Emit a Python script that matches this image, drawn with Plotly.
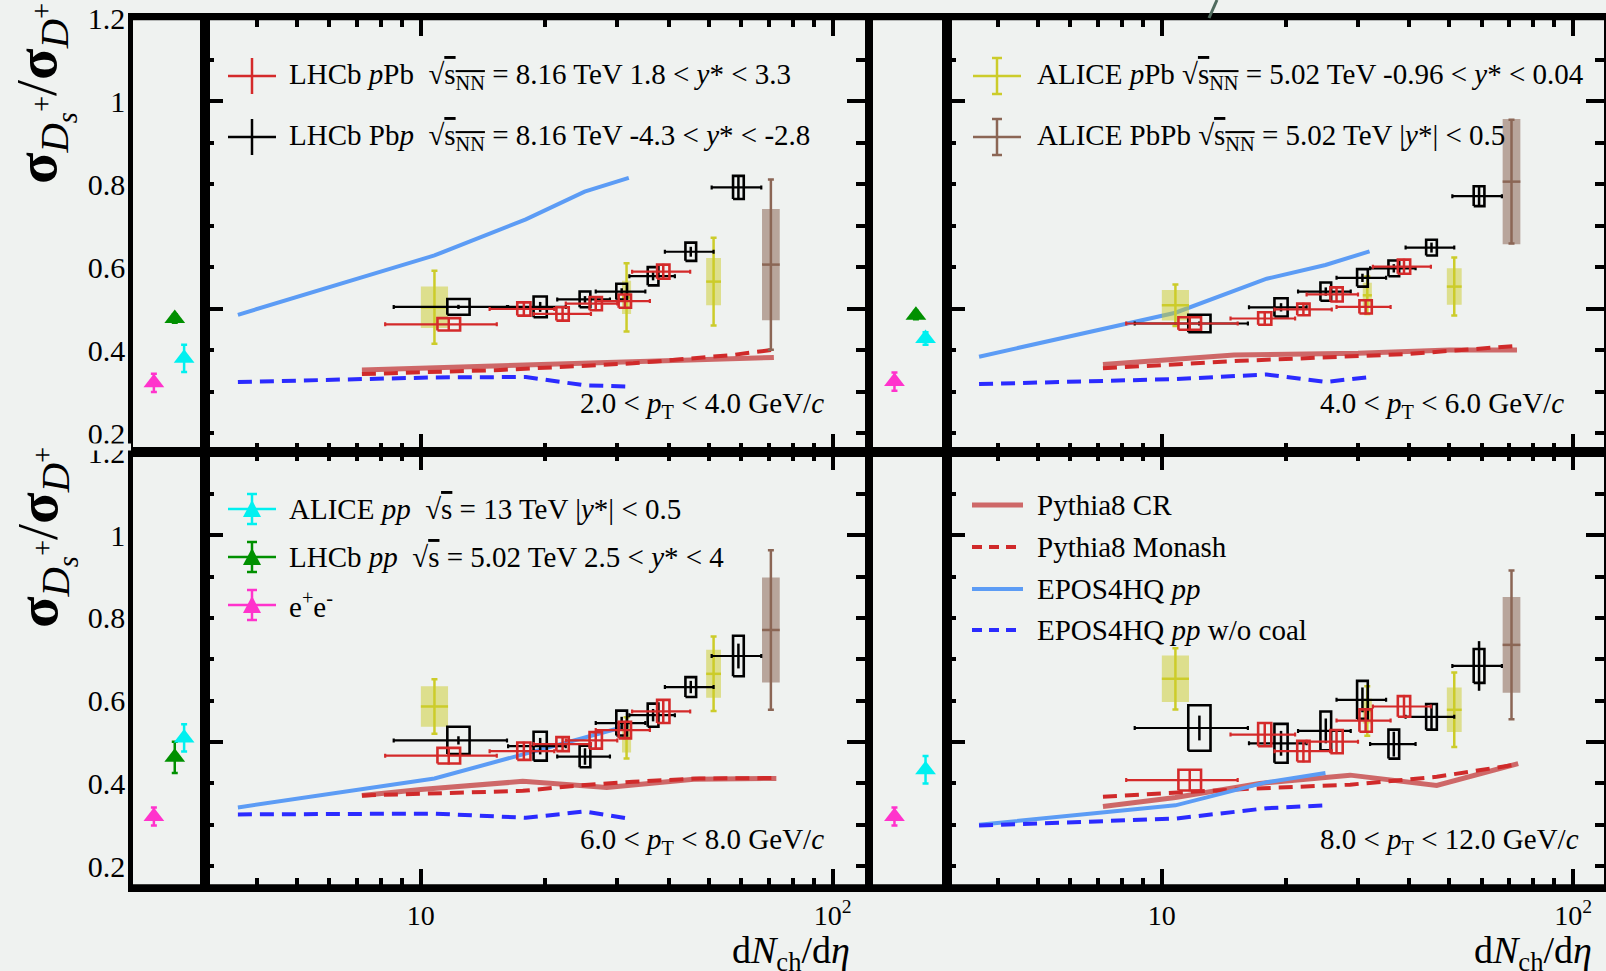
import plotly.graph_objects as go

W, H = 1606, 971
BG = "#eff2f0"
FONT = "Liberation Serif"

# ---------------- data ----------------
PT_LABELS = [
    "2.0 &lt; <i>p</i><sub>T</sub> &lt; 4.0 GeV/<i>c</i>",
    "4.0 &lt; <i>p</i><sub>T</sub> &lt; 6.0 GeV/<i>c</i>",
    "6.0 &lt; <i>p</i><sub>T</sub> &lt; 8.0 GeV/<i>c</i>",
    "8.0 &lt; <i>p</i><sub>T</sub> &lt; 12.0 GeV/<i>c</i>",
]

# LHCb pPb (red)
RED_X = [11.7, 17.8, 22.1, 26.6, 31.3, 38.8]
RED_XLO = [8.2, 14.7, 18.8, 22.5, 26.6, 32.6]
RED_XHI = [15.3, 21.1, 25.9, 30.0, 36.0, 45.1]
RED_BOX_DLOG = [0.0275, 0.016, 0.015, 0.015, 0.015, 0.015]
RED_Y = [
    [0.462, 0.499, 0.487, 0.512, 0.518, 0.589],
    [0.464, 0.476, 0.498, 0.534, 0.504, 0.601],
    [0.467, 0.478, 0.495, 0.504, 0.529, 0.574],
    [0.408, 0.518, 0.478, 0.501, 0.552, 0.586],
]
RED_SYST = [
    [0.015, 0.016, 0.016, 0.016, 0.016, 0.017],
    [0.015, 0.015, 0.014, 0.017, 0.016, 0.017],
    [0.019, 0.021, 0.017, 0.020, 0.020, 0.028],
    [0.025, 0.028, 0.025, 0.028, 0.027, 0.025],
]
RED_STAT = [
    [0.016, 0.018, 0.018, 0.018, 0.018, 0.019],
    [0.016, 0.017, 0.016, 0.019, 0.018, 0.019],
    [0.021, 0.023, 0.019, 0.022, 0.022, 0.030],
    [0.027, 0.030, 0.027, 0.030, 0.030, 0.028],
]

# LHCb Pbp (black)
BLK_X = [12.35, 19.5, 25.05, 30.75, 36.65, 45.25, 59.05]
BLK_XLO = [8.6, 16.3, 21.45, 26.6, 32.1, 39.15, 50.85]
BLK_XHI = [16.2, 22.5, 28.8, 35.1, 41.4, 51.4, 67.1]
BLK_BOX_DLOG = [0.027, 0.016, 0.013, 0.013, 0.013, 0.013, 0.013]
BLK_Y = [
    [0.504, 0.504, 0.522, 0.541, 0.578, 0.637, 0.792],
    [0.464, 0.503, 0.541, 0.574, 0.597, 0.647, 0.771],
    [0.504, 0.490, 0.465, 0.546, 0.565, 0.633, 0.708],
    [0.534, 0.497, 0.527, 0.602, 0.495, 0.561, 0.684],
]
BLK_SYST = [
    [0.019, 0.025, 0.019, 0.019, 0.022, 0.022, 0.028],
    [0.021, 0.022, 0.022, 0.021, 0.019, 0.019, 0.024],
    [0.033, 0.035, 0.026, 0.030, 0.028, 0.024, 0.049],
    [0.055, 0.047, 0.047, 0.046, 0.035, 0.031, 0.041],
]
BLK_STAT = [
    [0.005, 0.012, 0.008, 0.008, 0.010, 0.012, 0.030],
    [0.005, 0.010, 0.010, 0.010, 0.010, 0.012, 0.025],
    [0.010, 0.020, 0.020, 0.015, 0.015, 0.015, 0.030],
    [0.030, 0.030, 0.030, 0.030, 0.030, 0.030, 0.060],
]

# ALICE pPb (yellow)
YEL_X = [10.8, 31.6, 51.4]
YEL_BOX_DLOG = [0.033, 0.011, 0.018]
YEL_Y = [
    [0.503, 0.527, 0.565],
    [0.508, 0.532, 0.553],
    [0.586, 0.510, 0.665],
    [0.653, 0.575, 0.578],
]
YEL_STAT = [
    [0.088, 0.082, 0.106],
    [0.050, 0.045, 0.070],
    [0.066, 0.050, 0.090],
    [0.074, 0.060, 0.090],
]
YEL_SYST = [
    [0.050, 0.040, 0.057],
    [0.037, 0.030, 0.044],
    [0.049, 0.035, 0.058],
    [0.056, 0.030, 0.054],
]

# ALICE PbPb (brown)
BRN_X = [70.8]
BRN_BOX_DLOG = [0.0215]
BRN_Y = [[0.606], [0.806], [0.771], [0.735]]
BRN_STAT = [[0.205], [0.149], [0.193], [0.180]]
BRN_SYST = [[0.134], [0.151], [0.127], [0.116]]

# pp / e+e- reference points (left sub-panels)
REF_NAMES = ["e+e-", "LHCb pp 5.02", "ALICE pp 13"]
REF_POS = [0.29, 0.58, 0.71]
REF_Y = [
    [0.321, 0.476, 0.380],
    [0.324, 0.484, 0.428],
    [0.320, 0.463, 0.510],
    [0.320, None, 0.433],
]
REF_ERR = [
    [0.022, 0.010, 0.033],
    [0.022, 0.010, 0.015],
    [0.022, 0.038, 0.033],
    [0.022, None, 0.033],
]

# Models
EPOS_X = [[3.6, 10.8, 18, 25, 32], [3.6, 10.8, 18, 25, 32], [3.6, 10.8, 18, 25, 32], [3.6, 10.8, 18, 25]]
EPOS_Y = [
    [0.485, 0.628, 0.715, 0.782, 0.815],
    [0.384, 0.490, 0.572, 0.605, 0.638],
    [0.342, 0.412, 0.472, 0.510, 0.540],
    [0.300, 0.347, 0.403, 0.425],
]
EPOSNC_Y = [
    [0.323, 0.334, 0.335, 0.315, 0.312],
    [0.318, 0.330, 0.341, 0.323, 0.335],
    [0.325, 0.327, 0.317, 0.332, 0.315],
    [0.298, 0.315, 0.340, 0.347],
]
CR_X = [
    [7.2, 10, 20, 30, 72],
    [7.2, 15, 30, 50, 73],
    [7.2, 10, 17.7, 28.3, 46, 73],
    [7.2, 10.8, 17.3, 28.7, 46.6, 73.5],
]
CR_Y = [
    [0.352, 0.356, 0.364, 0.370, 0.382],
    [0.365, 0.388, 0.392, 0.400, 0.400],
    [0.371, 0.385, 0.405, 0.390, 0.410, 0.412],
    [0.344, 0.366, 0.400, 0.420, 0.395, 0.448],
]
MON_X = [
    [7.2, 15.6, 32.8, 57, 71],
    [7.2, 15.5, 39, 73],
    [7.2, 17.7, 23.5, 32.8, 47.6, 73],
    [7.2, 15.5, 28.7, 46.6, 72],
]
MON_Y = [
    [0.342, 0.352, 0.368, 0.388, 0.400],
    [0.356, 0.374, 0.390, 0.410],
    [0.371, 0.382, 0.394, 0.404, 0.412, 0.413],
    [0.368, 0.386, 0.397, 0.416, 0.445],
]

# ---------------- styles ----------------
RED = "#d42a2a"
YEL = "#cccc2a"
YEL_FILL = "rgba(204,204,42,0.5)"
BRN = "#8b6655"
BRN_FILL = "rgba(139,102,85,0.55)"
REF_COL = ["#ff33cc", "#009000", "#00f0f0"]
EPOS_COL = "#5c9cf5"
EPOSNC_COL = "#2b2bff"
CR_COL = "rgba(200,80,80,0.85)"
MON_COL = "#d02a2a"
DASH = "14px,8px"


def px(x):
    return x / W


def py(y):
    return 1 - y / H


def rects(xs, ys, hs, dl):
    X, Y = [], []
    for x, y, h, d in zip(xs, ys, hs, dl):
        x0, x1 = x * 10 ** (-d), x * 10 ** d
        X += [x0, x1, x1, x0, x0, None]
        Y += [y - h, y - h, y + h, y + h, y - h, None]
    return X, Y


fig = go.Figure()

MAIN = [("x", "y"), ("x2", "y2"), ("x3", "y3"), ("x4", "y4")]
SUB = [("x5", "y5"), ("x6", "y6"), ("x7", "y7"), ("x8", "y8")]

for i in range(4):
    xa, ya = MAIN[i]
    fig.add_trace(go.Scatter(x=CR_X[i], y=CR_Y[i], mode="lines", line=dict(color=CR_COL, width=5),
                             xaxis=xa, yaxis=ya, showlegend=False, hoverinfo="skip"))
    fig.add_trace(go.Scatter(x=MON_X[i], y=MON_Y[i], mode="lines", line=dict(color=MON_COL, width=4, dash=DASH),
                             xaxis=xa, yaxis=ya, showlegend=False, hoverinfo="skip"))
    fig.add_trace(go.Scatter(x=EPOS_X[i], y=EPOS_Y[i], mode="lines", line=dict(color=EPOS_COL, width=4),
                             xaxis=xa, yaxis=ya, showlegend=False, hoverinfo="skip"))
    fig.add_trace(go.Scatter(x=EPOS_X[i], y=EPOSNC_Y[i], mode="lines", line=dict(color=EPOSNC_COL, width=4, dash=DASH),
                             xaxis=xa, yaxis=ya, showlegend=False, hoverinfo="skip"))
    for X, Y, S, D, F, C, E in [
        (YEL_X, YEL_Y[i], YEL_SYST[i], YEL_BOX_DLOG, YEL_FILL, YEL, YEL_STAT[i]),
        (BRN_X, BRN_Y[i], BRN_SYST[i], BRN_BOX_DLOG, BRN_FILL, BRN, BRN_STAT[i]),
    ]:
        bx, by = rects(X, Y, S, D)
        fig.add_trace(go.Scatter(x=bx, y=by, mode="lines", fill="toself", fillcolor=F,
                                 line=dict(width=0, color=F), xaxis=xa, yaxis=ya,
                                 showlegend=False, hoverinfo="skip"))
        fig.add_trace(go.Scatter(
            x=X, y=Y, mode="markers", marker=dict(size=1, color=C),
            error_y=dict(type="data", array=E, color=C, thickness=2.5, width=3),
            error_x=dict(type="data", array=[x * (10 ** d - 1) for x, d in zip(X, D)],
                         arrayminus=[x * (1 - 10 ** (-d)) for x, d in zip(X, D)],
                         color=C, thickness=2.5, width=0),
            xaxis=xa, yaxis=ya, showlegend=False, hoverinfo="skip"))
    for X, XLO, XHI, Y, S, ST, D, C in [
        (BLK_X, BLK_XLO, BLK_XHI, BLK_Y[i], BLK_SYST[i], BLK_STAT[i], BLK_BOX_DLOG, "black"),
        (RED_X, RED_XLO, RED_XHI, RED_Y[i], RED_SYST[i], RED_STAT[i], RED_BOX_DLOG, RED),
    ]:
        bx, by = rects(X, Y, S, D)
        fig.add_trace(go.Scatter(x=bx, y=by, mode="lines", line=dict(width=2.6, color=C),
                                 xaxis=xa, yaxis=ya, showlegend=False, hoverinfo="skip"))
        fig.add_trace(go.Scatter(
            x=X, y=Y, mode="markers", marker=dict(size=1, color=C),
            error_y=dict(type="data", array=ST, color=C, thickness=2.5, width=0),
            error_x=dict(type="data", array=[h - x for h, x in zip(XHI, X)],
                         arrayminus=[x - l for x, l in zip(X, XLO)], color=C, thickness=2.2, width=2),
            xaxis=xa, yaxis=ya, showlegend=False, hoverinfo="skip"))

    xs, ys = SUB[i]
    for k in range(3):
        if REF_Y[i][k] is None:
            continue
        fig.add_trace(go.Scatter(
            x=[REF_POS[k]], y=[REF_Y[i][k]], mode="markers",
            marker=dict(symbol="triangle-up", size=18, color=REF_COL[k], line=dict(width=0)),
            error_y=dict(type="data", array=[REF_ERR[i][k]], color=REF_COL[k], thickness=2.5, width=3),
            xaxis=xs, yaxis=ys, showlegend=False, hoverinfo="skip"))

# ---------------- axes ----------------
TICKFONT = dict(family=FONT, size=30, color="black")
Y_MID = 452
Y_BOTTOM = 886.6
Y_TOP = [py(Y_MID), py(18)]
Y_BOT = [py(Y_BOTTOM), py(Y_MID)]
RANGE_TOP = [0.1542, 1.2005]
RANGE_BOT = [0.1505, 1.2013]
X_L = [px(205), px(865)]
X_R = [px(947), px(1604)]
SUB_L = [px(133), px(205)]
SUB_R = [px(873), px(947)]


def main_x(domain, anchor, rng, labels):
    return dict(domain=domain, anchor=anchor, type="log", range=rng, automargin=False,
                showline=True, linewidth=4.5, linecolor="black", mirror="ticks",
                ticks="inside", ticklen=18, tickwidth=4, tickcolor="black",
                tickmode="array", tickvals=[10, 100], ticktext=["10", "10<sup>2</sup>"],
                minor=dict(tickmode="array", tickvals=[4, 5, 6, 7, 8, 9, 20, 30, 40, 50, 60, 70, 80, 90],
                           ticks="inside", ticklen=9, tickwidth=3.5, tickcolor="black", showgrid=False),
                showticklabels=labels, tickfont=dict(family=FONT, size=28, color="black"),
                ticklabelstandoff=0, showgrid=False, zeroline=False)


def main_y(domain, anchor, rng):
    return dict(domain=domain, anchor=anchor, range=rng, automargin=False,
                showline=True, linewidth=4.5, linecolor="black", mirror="ticks",
                ticks="inside", ticklen=18, tickwidth=4, tickcolor="black",
                tickmode="array", tickvals=[0.5, 1.0],
                minor=dict(tickmode="array", tickvals=[0.2, 0.3, 0.4, 0.6, 0.7, 0.8, 0.9, 1.1],
                           ticks="inside", ticklen=9, tickwidth=3.5, tickcolor="black", showgrid=False),
                showticklabels=False, showgrid=False, zeroline=False)


def sub_x(domain, anchor):
    return dict(domain=domain, anchor=anchor, range=[0, 1], showline=True, linewidth=4.5, automargin=False,
                linecolor="black", mirror=True, ticks="", showticklabels=False,
                showgrid=False, zeroline=False)


def sub_y(domain, anchor, rng, labels):
    return dict(domain=domain, anchor=anchor, range=rng, showline=True, linewidth=4.5, automargin=False,
                linecolor="black", mirror=True, ticks="", showticklabels=labels,
                tickmode="array", tickvals=[0.2, 0.4, 0.6, 0.8, 1.0, 1.2],
                ticktext=["0.2", "0.4", "0.6", "0.8", "1", "1.2"],
                tickfont=TICKFONT, ticklabelstandoff=-3, showgrid=False, zeroline=False)


LR = [0.47645, 2.0785]
RR = [0.4784, 2.0748]

layout = dict(
    width=W, height=H, margin=dict(l=0, r=0, t=0, b=0, pad=0, autoexpand=False),
    paper_bgcolor=BG, plot_bgcolor=BG,
    font=dict(family=FONT, color="black"),
    xaxis=main_x(X_L, "y", LR, False), yaxis=main_y(Y_TOP, "x", RANGE_TOP),
    xaxis2=main_x(X_R, "y2", RR, False), yaxis2=main_y(Y_TOP, "x2", RANGE_TOP),
    xaxis3=main_x(X_L, "y3", LR, True), yaxis3=main_y(Y_BOT, "x3", RANGE_BOT),
    xaxis4=main_x(X_R, "y4", RR, True), yaxis4=main_y(Y_BOT, "x4", RANGE_BOT),
    xaxis5=sub_x(SUB_L, "y5"), yaxis5=sub_y(Y_TOP, "x5", RANGE_TOP, True),
    xaxis6=sub_x(SUB_R, "y6"), yaxis6=sub_y(Y_TOP, "x6", RANGE_TOP, False),
    xaxis7=sub_x(SUB_L, "y7"), yaxis7=sub_y(Y_BOT, "x7", RANGE_BOT, True),
    xaxis8=sub_x(SUB_R, "y8"), yaxis8=sub_y(Y_BOT, "x8", RANGE_BOT, False),
)
fig.update_layout(**layout)

shapes = []
annots = []


def seg(x0, y0, x1, y1, color, width, dash=None, layer="above"):
    d = dict(type="line", xref="paper", yref="paper", x0=px(x0), y0=py(y0), x1=px(x1), y1=py(y1),
             line=dict(color=color, width=width), layer=layer)
    if dash:
        d["line"]["dash"] = dash
    shapes.append(d)


def text(x, y, s, size=29, xanchor="left", yanchor="middle", angle=0):
    annots.append(dict(xref="paper", yref="paper", x=px(x), y=py(y), text=s, showarrow=False,
                       xanchor=xanchor, yanchor=yanchor, textangle=angle,
                       font=dict(family=FONT, size=size, color="black")))


for yy in (18, Y_MID, Y_BOTTOM):
    seg(131, yy, 1606, yy, "black", 4.5)

shapes.append(dict(type="rect", xref="paper", yref="paper", x0=px(78), x1=px(131), y0=py(450.5), y1=py(443.5),
                   fillcolor=BG, line=dict(width=0), layer="above"))

seg(1209, 18, 1217, 0, "#4f6b5e", 3)

SQ_NN = "√<span style='text-decoration:overline'>s<sub>NN</sub></span>"
SQ = "√<span style='text-decoration:overline'>s</span>"


def cross(cx, cy, color, caps=False):
    seg(cx - 24, cy, cx + 24, cy, color, 2.5)
    seg(cx, cy - 18, cx, cy + 18, color, 2.5)
    if caps:
        seg(cx - 5, cy - 18, cx + 5, cy - 18, color, 2.5)
        seg(cx - 5, cy + 18, cx + 5, cy + 18, color, 2.5)


def tri_sym(cx, cy, color):
    seg(cx - 24, cy, cx + 24, cy, color, 2.5)
    seg(cx, cy - 15, cx, cy + 15, color, 2.5)
    seg(cx - 5, cy - 15, cx + 5, cy - 15, color, 2.5)
    seg(cx - 5, cy + 15, cx + 5, cy + 15, color, 2.5)
    path = "M {} {} L {} {} L {} {} Z".format(px(cx - 9), py(cy + 8), px(cx + 9), py(cy + 8), px(cx), py(cy - 9))
    shapes.append(dict(type="path", xref="paper", yref="paper", path=path, fillcolor=color,
                       line=dict(width=0), layer="above"))


# Legend TL
cross(252, 76, RED)
text(287, 76, "LHCb <i>p</i>Pb  " + SQ_NN + " = 8.16 TeV 1.8 &lt; <i>y</i>* &lt; 3.3")
cross(252, 137, "black")
text(287, 137, "LHCb Pb<i>p</i>  " + SQ_NN + " = 8.16 TeV -4.3 &lt; <i>y</i>* &lt; -2.8")
# Legend TR
cross(997, 76, YEL, caps=True)
text(1035, 76, "ALICE <i>p</i>Pb " + SQ_NN + " = 5.02 TeV -0.96 &lt; <i>y</i>* &lt; 0.04")
cross(997, 137, BRN, caps=True)
text(1035, 137, "ALICE PbPb " + SQ_NN + " = 5.02 TeV |<i>y</i>*| &lt; 0.5")
# Legend BL
tri_sym(252, 509, REF_COL[2])
text(287, 509, "ALICE <i>pp</i>  " + SQ + " = 13 TeV |<i>y</i>*| &lt; 0.5")
tri_sym(252, 557, REF_COL[1])
text(287, 557, "LHCb <i>pp</i>  " + SQ + " = 5.02 TeV 2.5 &lt; <i>y</i>* &lt; 4")
tri_sym(252, 605, REF_COL[0])
text(287, 605, "e<sup>+</sup>e<sup>-</sup>")
# Legend BR
seg(972, 505, 1023, 505, CR_COL, 5)
text(1035, 505, "Pythia8 CR")
seg(972, 547, 1023, 547, MON_COL, 4, dash="10px,7px")
text(1035, 547, "Pythia8 Monash")
seg(972, 589, 1023, 589, EPOS_COL, 4)
text(1035, 589, "EPOS4HQ <i>pp</i>")
seg(972, 630, 1023, 630, EPOSNC_COL, 4, dash="10px,7px")
text(1035, 630, "EPOS4HQ <i>pp</i> w/o coal")

# pT labels
text(826, 405, PT_LABELS[0], xanchor="right")
text(1566, 405, PT_LABELS[1], xanchor="right")
text(826, 841, PT_LABELS[2], xanchor="right")
text(1581, 841, PT_LABELS[3], xanchor="right")

# x titles
XT = "d<i>N</i><sub>ch</sub>/d<i>η</i>"
text(730, 953, XT, size=38)
text(1472, 953, XT, size=38)

# y titles
YT = "<b>σ</b><sub><i>D</i><sub><i>s</i></sub><sup>+</sup></sub>/<b>σ</b><sub><i>D</i><sup>+</sup></sub>"
text(44, 94, YT, size=58, xanchor="center", angle=-90)
text(44, 538, YT, size=58, xanchor="center", angle=-90)

fig.update_layout(shapes=shapes, annotations=annots)
fig.write_html("out.html")
